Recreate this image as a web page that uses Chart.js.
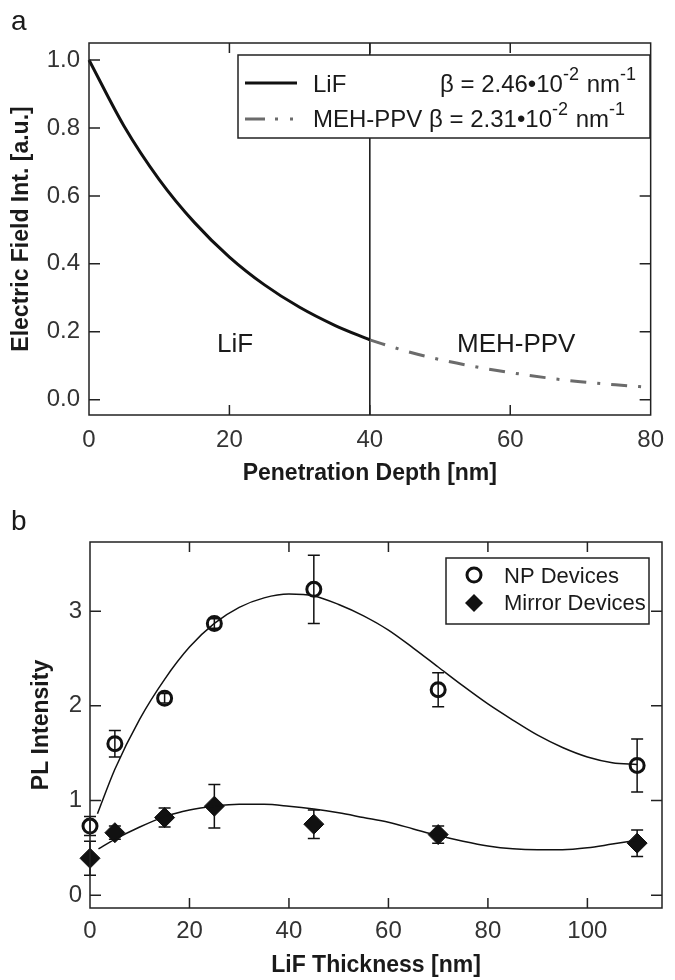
<!DOCTYPE html>
<html>
<head>
<meta charset="utf-8">
<script src="https://cdn.jsdelivr.net/npm/chart.js@4.4.1/dist/chart.umd.min.js"></script>
<style>
    body { margin: 0; background: #fff; }
    .panel { position: absolute; left: 0; width: 675px; height: 490px; }
</style>
</head>
<body>
<div class="panel" style="top:0"><canvas id="chartA" width="675" height="490"></canvas></div>
<div class="panel" style="top:490px"><canvas id="chartB" width="675" height="490"></canvas></div>
<script>
// panel a - field decay
var depthLiF = [0, 5, 10, 15, 20, 25, 30, 35, 40];
var fieldLiF = [1.0, 0.805, 0.648, 0.522, 0.42, 0.338, 0.272, 0.219, 0.176];
var depthMEH = [40, 45, 50, 55, 60, 65, 70, 75, 80];
var fieldMEH = [0.176, 0.144, 0.118, 0.097, 0.080, 0.065, 0.053, 0.044, 0.036];
var xTicksA = [0, 20, 40, 60, 80];
var yTicksA = [0, 0.2, 0.4, 0.6, 0.8, 1.0];

// panel b - PL intensity vs LiF thickness
var thickness = [0, 5, 15, 25, 45, 70, 110];
var npPL = [0.73, 1.60, 2.08, 2.87, 3.23, 2.17, 1.37];
var npErr = [0.10, 0.14, 0.05, 0.05, 0.36, 0.18, 0.28];
var mirrorPL = [0.39, 0.66, 0.82, 0.94, 0.75, 0.64, 0.55];
var mirrorErr = [0.18, 0.07, 0.10, 0.23, 0.15, 0.09, 0.14];
var fitNPx = [1.5, 5, 10, 15, 20, 25, 30, 35, 40, 45, 50, 55, 60, 65, 70, 75, 80, 85, 90, 95, 100, 105, 110];
var fitNPy = [0.86, 1.33, 1.86, 2.28, 2.62, 2.87, 3.04, 3.14, 3.18, 3.16, 3.07, 2.95, 2.80, 2.61, 2.41, 2.21, 2.02, 1.85, 1.69, 1.56, 1.46, 1.40, 1.38];
var fitMirX = [1.7, 5, 10, 15, 20, 25, 30, 35, 40, 45, 50, 55, 60, 65, 70, 75, 80, 85, 90, 95, 100, 105, 110];
var fitMirY = [0.49, 0.59, 0.72, 0.83, 0.90, 0.94, 0.96, 0.96, 0.94, 0.91, 0.87, 0.82, 0.77, 0.70, 0.63, 0.57, 0.52, 0.49, 0.48, 0.48, 0.50, 0.54, 0.58];
var xTicksB = [0, 20, 40, 60, 80, 100];
var yTicksB = [0, 1, 2, 3];

var FAMILY = '"Liberation Sans", Arial, Helvetica, sans-serif';
var tickFont = { family: FAMILY, size: 24 };
var titleFont = { family: FAMILY, size: 23, weight: 'bold' };

function pts(xs, ys) {
    return xs.map(function (x, i) { return { x: x, y: ys[i] }; });
}

// box round the plot with inward ticks on all four sides
function drawFrame(chart, xTicks, yTicks) {
    var ctx = chart.ctx, a = chart.chartArea, sx = chart.scales.x, sy = chart.scales.y;
    ctx.save();
    ctx.strokeStyle = '#222';
    ctx.lineWidth = 1.5;
    ctx.strokeRect(a.left, a.top, a.right - a.left, a.bottom - a.top);
    ctx.beginPath();
    xTicks.forEach(function (v) {
        var px = sx.getPixelForValue(v);
        if (px - a.left < 2 || a.right - px < 2) return;
        ctx.moveTo(px, a.bottom); ctx.lineTo(px, a.bottom - 10);
        ctx.moveTo(px, a.top); ctx.lineTo(px, a.top + 10);
    });
    yTicks.forEach(function (v) {
        var py = sy.getPixelForValue(v);
        ctx.moveTo(a.left, py); ctx.lineTo(a.left + 11, py);
        ctx.moveTo(a.right, py); ctx.lineTo(a.right - 11, py);
    });
    ctx.stroke();
    ctx.restore();
}

// text with superscripts
function drawRich(ctx, x, y, parts, size) {
    parts.forEach(function (p) {
        var s = p.sup ? Math.round(size * 0.75) : size;
        ctx.font = s + 'px ' + FAMILY;
        ctx.fillText(p.t, x, p.sup ? y - size * 0.5 : y);
        x += ctx.measureText(p.t).width + (p.sup ? 1 : 0);
    });
}

function scaleBase(min, max, ticks, title, tickPad, titlePad, fmt) {
    return {
        type: 'linear', min: min, max: max,
        grid: { display: false, drawTicks: false },
        border: { display: false },
        ticks: { font: tickFont, color: '#333', padding: tickPad, includeBounds: false, callback: fmt },
        afterBuildTicks: function (s) { s.ticks = ticks.map(function (v) { return { value: v }; }); },
        title: { display: true, text: title, font: titleFont, color: '#1a1a1a', padding: titlePad }
    };
}

// ---- panel a
var xA = scaleBase(0, 80, xTicksA, 'Penetration Depth [nm]', 11, { top: 0, bottom: 3 }, function (v) { return v; });
xA.afterFit = function (s) { s.height = 75; };
var yA = scaleBase(-0.045, 1.05, yTicksA, 'Electric Field Int. [a.u.]', 9, { top: 8, bottom: 0 }, function (v) { return v.toFixed(1); });
yA.afterFit = function (s) { s.width = 89; };

var panelA = {
    id: 'panelA',
    beforeDatasetsDraw: function (chart) {
        var ctx = chart.ctx, a = chart.chartArea;
        var px = chart.scales.x.getPixelForValue(40);
        ctx.save();
        ctx.strokeStyle = '#111';
        ctx.lineWidth = 1.5;
        ctx.beginPath();
        ctx.moveTo(px, a.top); ctx.lineTo(px, a.bottom);
        ctx.stroke();
        ctx.restore();
    },
    afterDatasetsDraw: function (chart) {
        var ctx = chart.ctx;
        drawFrame(chart, xTicksA, yTicksA);
        ctx.save();
        // legend
        ctx.fillStyle = '#fff';
        ctx.fillRect(238, 55, 412, 83);
        ctx.strokeStyle = '#222';
        ctx.lineWidth = 1.5;
        ctx.strokeRect(238, 55, 412, 83);
        ctx.lineWidth = 3;
        ctx.strokeStyle = '#111';
        ctx.beginPath(); ctx.moveTo(245, 83); ctx.lineTo(297, 83); ctx.stroke();
        ctx.strokeStyle = '#6b6b6b';
        ctx.setLineDash([20, 10, 3, 12, 3, 100]);
        ctx.beginPath(); ctx.moveTo(245, 119); ctx.lineTo(297, 119); ctx.stroke();
        ctx.setLineDash([]);
        ctx.fillStyle = '#1a1a1a';
        ctx.textBaseline = 'alphabetic';
        drawRich(ctx, 313, 92, [{ t: 'LiF' }], 24);
        drawRich(ctx, 440, 92, [{ t: 'β = 2.46•10' }, { t: '-2', sup: true }, { t: ' nm' }, { t: '-1', sup: true }], 24);
        drawRich(ctx, 313, 127, [{ t: 'MEH-PPV β = 2.31•10' }, { t: '-2', sup: true }, { t: ' nm' }, { t: '-1', sup: true }], 24);
        // region labels
        ctx.font = '26px ' + FAMILY;
        ctx.fillText('LiF', 217, 352);
        ctx.fillText('MEH-PPV', 457, 352);
        ctx.font = '28px ' + FAMILY;
        ctx.fillText('a', 11, 30);
        ctx.restore();
    }
};

new Chart(document.getElementById('chartA'), {
    type: 'line',
    data: {
        datasets: [
            {
                label: 'LiF', data: pts(depthLiF, fieldLiF),
                borderColor: '#111', borderWidth: 3, pointRadius: 0,
                cubicInterpolationMode: 'monotone', clip: false
            },
            {
                label: 'MEH-PPV', data: pts(depthMEH, fieldMEH),
                borderColor: '#6b6b6b', borderWidth: 3, borderDash: [16, 11, 3, 11], pointRadius: 0,
                cubicInterpolationMode: 'monotone', clip: false
            }
        ]
    },
    options: {
        responsive: false, animation: false, devicePixelRatio: 1, events: [],
        layout: { padding: { top: 43, right: 16, bottom: 0, left: 0 } },
        plugins: { legend: { display: false }, tooltip: { enabled: false } },
        scales: { x: xA, y: yA }
    },
    plugins: [panelA]
});

// ---- panel b
var xB = scaleBase(0, 115, xTicksB, 'LiF Thickness [nm]', 9, { top: 0, bottom: 1 }, function (v) { return v; });
xB.afterFit = function (s) { s.height = 72; };
var yB = scaleBase(-0.135, 3.73, yTicksB, 'PL Intensity', 8, { top: 28, bottom: 0 }, function (v) { return v; });
yB.afterFit = function (s) { s.width = 90; };

var panelB = {
    id: 'panelB',
    beforeDatasetsDraw: function (chart) {
        var ctx = chart.ctx, sx = chart.scales.x, sy = chart.scales.y;
        ctx.save();
        ctx.strokeStyle = '#111';
        ctx.lineWidth = 1.5;
        ctx.beginPath();
        [[npPL, npErr], [mirrorPL, mirrorErr]].forEach(function (s) {
            thickness.forEach(function (t, i) {
                var px = sx.getPixelForValue(t);
                var y1 = sy.getPixelForValue(s[0][i] + s[1][i]);
                var y2 = sy.getPixelForValue(s[0][i] - s[1][i]);
                ctx.moveTo(px, y1); ctx.lineTo(px, y2);
                ctx.moveTo(px - 6, y1); ctx.lineTo(px + 6, y1);
                ctx.moveTo(px - 6, y2); ctx.lineTo(px + 6, y2);
            });
        });
        ctx.stroke();
        ctx.restore();
    },
    afterDatasetsDraw: function (chart) {
        var ctx = chart.ctx;
        drawFrame(chart, xTicksB, yTicksB);
        ctx.save();
        ctx.strokeStyle = '#222';
        ctx.lineWidth = 1.5;
        ctx.strokeRect(446, 68, 203, 66);
        // markers
        ctx.strokeStyle = '#111';
        ctx.lineWidth = 3;
        ctx.beginPath(); ctx.arc(474, 85, 7, 0, Math.PI * 2); ctx.stroke();
        ctx.fillStyle = '#111';
        ctx.beginPath();
        ctx.moveTo(465, 113); ctx.lineTo(474, 104); ctx.lineTo(483, 113); ctx.lineTo(474, 122);
        ctx.closePath(); ctx.fill();
        ctx.fillStyle = '#1a1a1a';
        ctx.textBaseline = 'alphabetic';
        ctx.font = '22px ' + FAMILY;
        ctx.fillText('NP Devices', 504, 93);
        ctx.fillText('Mirror Devices', 504, 120);
        ctx.font = '28px ' + FAMILY;
        ctx.fillText('b', 11, 40);
        ctx.restore();
    }
};

new Chart(document.getElementById('chartB'), {
    type: 'line',
    data: {
        datasets: [
            {
                label: 'NP fit', data: pts(fitNPx, fitNPy),
                borderColor: '#111', borderWidth: 1.5, pointRadius: 0,
                cubicInterpolationMode: 'monotone', clip: false
            },
            {
                label: 'Mirror fit', data: pts(fitMirX, fitMirY),
                borderColor: '#111', borderWidth: 1.5, pointRadius: 0,
                cubicInterpolationMode: 'monotone', clip: false
            },
            {
                label: 'NP Devices', data: pts(thickness, npPL), showLine: false,
                pointStyle: 'circle', pointRadius: 7, pointBorderWidth: 3,
                pointBorderColor: '#111', pointBackgroundColor: 'rgba(0,0,0,0)', clip: false
            },
            {
                label: 'Mirror Devices', data: pts(thickness, mirrorPL), showLine: false,
                pointStyle: 'rectRot', pointRadius: 10, pointBorderWidth: 1,
                pointBorderColor: '#111', pointBackgroundColor: '#111', clip: false
            }
        ]
    },
    options: {
        responsive: false, animation: false, devicePixelRatio: 1, events: [],
        layout: { padding: { top: 52, right: 13, bottom: 0, left: 0 } },
        plugins: { legend: { display: false }, tooltip: { enabled: false } },
        scales: { x: xB, y: yB }
    },
    plugins: [panelB]
});
</script>
</body>
</html>
